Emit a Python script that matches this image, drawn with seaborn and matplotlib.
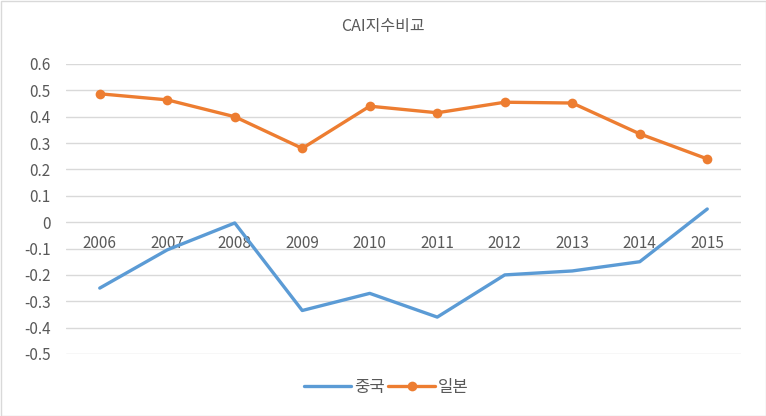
import pandas as pd
import seaborn as sns
import matplotlib.pyplot as plt
from matplotlib.patches import Rectangle

sns.set_style("white")
plt.rcParams['font.family'] = ['Noto Sans CJK KR', 'DejaVu Sans']

years = [2006, 2007, 2008, 2009, 2010, 2011, 2012, 2013, 2014, 2015]
china = [-0.25, -0.105, -0.003, -0.335, -0.27, -0.36, -0.20, -0.185, -0.15, 0.05]
japan = [0.487, 0.464, 0.40, 0.28, 0.44, 0.415, 0.455, 0.452, 0.335, 0.24]
y_ticks = [-0.5, -0.4, -0.3, -0.2, -0.1, 0, 0.1, 0.2, 0.3, 0.4, 0.5, 0.6]

blue = '#5B9BD5'
orange = '#ED7D31'
grey_text = '#595959'

fig = plt.figure(figsize=(7.66, 4.16), dpi=100)
ax = fig.add_axes([66/766, 1 - 354/416, 675/766, 290/416])

sns.lineplot(x=years, y=china, ax=ax, color=blue, linewidth=2.4, label='중국')
sns.lineplot(x=years, y=japan, ax=ax, color=orange, linewidth=2.4,
             marker='o', markersize=7, markeredgewidth=0, label='일본')

ax.set_xlim(2005.5, 2015.5)
ax.set_ylim(-0.5, 0.6)
ax.set_yticks(y_ticks)
ax.set_yticklabels(['0' if v == 0 else f'{v:g}' for v in y_ticks])
ax.set_xticks(years)
ax.set_xticklabels([str(y) for y in years])
ax.grid(axis='y', color='#D9D9D9', linewidth=1)
ax.set_axisbelow(True)
for side in ['top', 'right', 'left']:
    ax.spines[side].set_visible(False)
ax.spines['bottom'].set_position(('data', 0))
ax.spines['bottom'].set_visible(False)
ax.tick_params(axis='both', length=0, labelsize=11, colors=grey_text)
ax.tick_params(axis='x', pad=9)
ax.tick_params(axis='y', pad=11)

fig.text(383/766, 1 - 26/416, 'CAI지수비교', ha='center', va='center',
         fontsize=11.5, color=grey_text)

ax.legend(loc='center', bbox_to_anchor=(0.475, -0.115), ncol=2, frameon=False,
          fontsize=12, handlelength=2.8, columnspacing=0.2, handletextpad=0.2,
          labelcolor=grey_text)

fig.patches.append(Rectangle((0.5/766, 0.5/416), 1 - 1/766, 1 - 1/416,
                             transform=fig.transFigure, fill=False,
                             edgecolor='#D9D9D9', linewidth=1))

plt.savefig('out.png', dpi=100)
